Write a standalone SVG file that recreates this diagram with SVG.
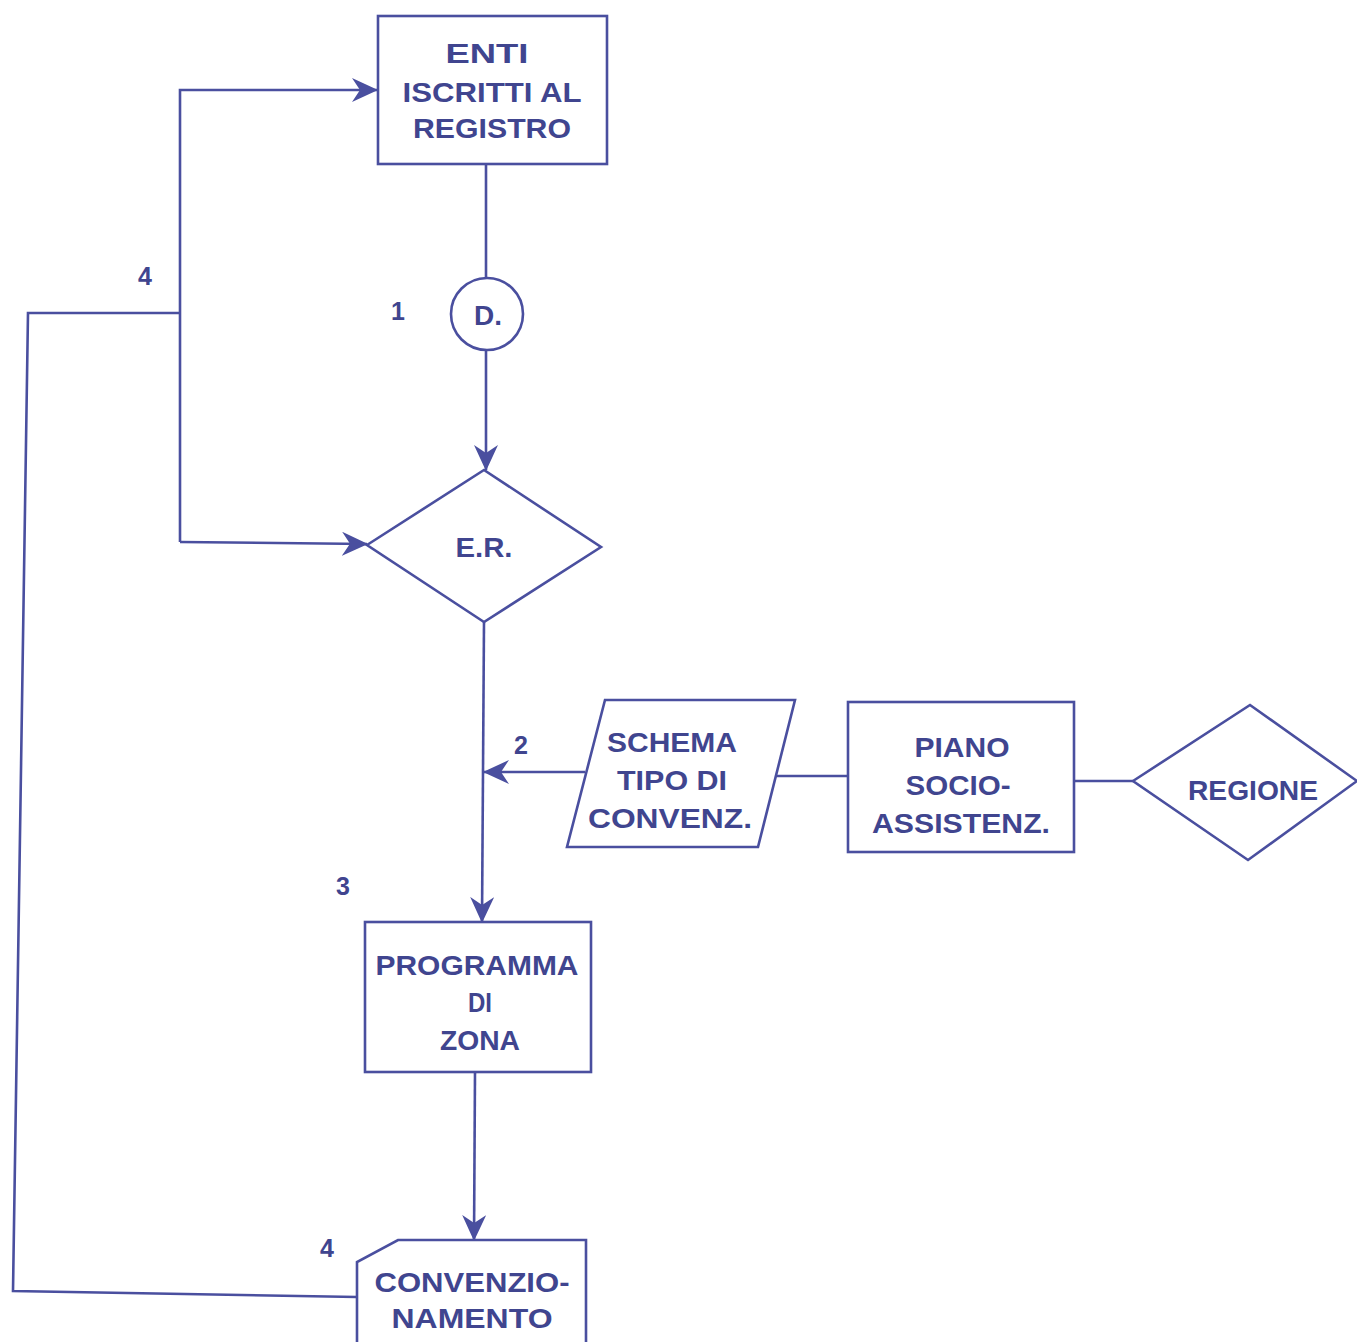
<svg xmlns="http://www.w3.org/2000/svg" width="1357" height="1342" viewBox="0 0 1357 1342">
<defs>
<style>
.s{fill:none;stroke:#4a4f9f;stroke-width:2.6;stroke-linejoin:miter}
.n{fill:#ffffff;stroke:#4a4f9f;stroke-width:2.6}
.t{font-family:"Liberation Sans",Arial,sans-serif;font-weight:bold;font-size:28px;fill:#40458f;text-anchor:middle}
.l{font-family:"Liberation Sans",Arial,sans-serif;font-weight:bold;font-size:25px;fill:#40458f;text-anchor:middle}
</style>
<marker id="ah" markerUnits="userSpaceOnUse" markerWidth="26" markerHeight="24" viewBox="0 0 26 24" refX="25" refY="12" orient="auto">
<path d="M0,0 L26,12 L0,24 L8,12 Z" fill="#4a4f9f"/>
</marker>
</defs>
<rect width="1357" height="1342" fill="#ffffff"/>
<g id="connectors">
<path class="s" d="M486,164 L486,277"/>
<path class="s" d="M486,350 L486,470" marker-end="url(#ah)"/>
<path class="s" d="M180,542 L180,90 L377,90" marker-end="url(#ah)"/>
<path class="s" d="M180,542 L367,544" marker-end="url(#ah)"/>
<path class="s" d="M180,313 L28,313 L13,1291 L357,1297"/>
<path class="s" d="M484,622 L482,922" marker-end="url(#ah)"/>
<path class="s" d="M585,772 L484,772" marker-end="url(#ah)"/>
<path class="s" d="M775,776 L848,776"/>
<path class="s" d="M1074,781 L1133,781"/>
<path class="s" d="M475,1072 L474,1240" marker-end="url(#ah)"/>
</g>
<g id="enti">
<rect class="n" x="378" y="16" width="229" height="148"/>
<text class="t" x="487" y="63" textLength="83" lengthAdjust="spacingAndGlyphs">ENTI</text>
<text class="t" x="492" y="102" textLength="179" lengthAdjust="spacingAndGlyphs">ISCRITTI AL</text>
<text class="t" x="492" y="138" textLength="158" lengthAdjust="spacingAndGlyphs">REGISTRO</text>
</g>
<g id="d">
<circle class="n" cx="487" cy="314" r="36"/>
<text class="t" x="488" y="325">D.</text>
</g>
<g id="er">
<polygon class="n" points="367,545 484,470 601,547 484,622"/>
<text class="t" x="484" y="557" textLength="57" lengthAdjust="spacingAndGlyphs">E.R.</text>
</g>
<g id="schema">
<polygon class="n" points="605,700 795,700 758,847 567,847"/>
<text class="t" x="672" y="752" textLength="130" lengthAdjust="spacingAndGlyphs">SCHEMA</text>
<text class="t" x="672" y="790" textLength="110" lengthAdjust="spacingAndGlyphs">TIPO DI</text>
<text class="t" x="670" y="828" textLength="164" lengthAdjust="spacingAndGlyphs">CONVENZ.</text>
</g>
<g id="piano">
<rect class="n" x="848" y="702" width="226" height="150"/>
<text class="t" x="962" y="757" textLength="95" lengthAdjust="spacingAndGlyphs">PIANO</text>
<text class="t" x="958" y="795" textLength="105" lengthAdjust="spacingAndGlyphs">SOCIO-</text>
<text class="t" x="961" y="833" textLength="178" lengthAdjust="spacingAndGlyphs">ASSISTENZ.</text>
</g>
<g id="regione">
<polygon class="n" points="1133,781 1250,705 1357,781 1248,860"/>
<text class="t" x="1253" y="800" textLength="130" lengthAdjust="spacingAndGlyphs">REGIONE</text>
</g>
<g id="programma">
<rect class="n" x="365" y="922" width="226" height="150"/>
<text class="t" x="477" y="975" textLength="203" lengthAdjust="spacingAndGlyphs">PROGRAMMA</text>
<text class="t" x="480" y="1012" textLength="24" lengthAdjust="spacingAndGlyphs">DI</text>
<text class="t" x="480" y="1050" textLength="80" lengthAdjust="spacingAndGlyphs">ZONA</text>
</g>
<g id="convenzionamento">
<path class="n" d="M357,1345 L357,1262 L398,1240 L586,1240 L586,1345"/>
<text class="t" x="472" y="1292" textLength="195" lengthAdjust="spacingAndGlyphs">CONVENZIO-</text>
<text class="t" x="472" y="1328" textLength="161" lengthAdjust="spacingAndGlyphs">NAMENTO</text>
</g>
<g id="labels">
<text class="l" x="145" y="285">4</text>
<text class="l" x="398" y="320">1</text>
<text class="l" x="521" y="754">2</text>
<text class="l" x="343" y="895">3</text>
<text class="l" x="327" y="1257">4</text>
</g>
</svg>
